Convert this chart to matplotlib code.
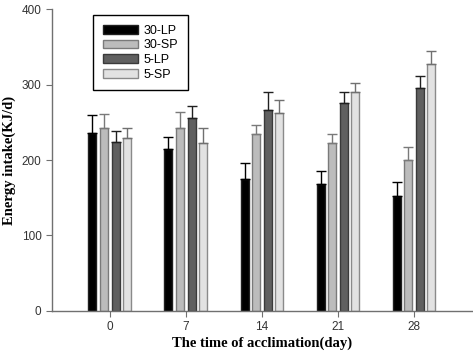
import matplotlib.pyplot as plt
import numpy as np

days = ["0", "7", "14", "21", "28"]
groups = ["30-LP", "30-SP", "5-LP", "5-SP"]

lp30 = [236, 215, 175, 168, 152]
sp30 = [243, 243, 234, 222, 200]
lp5 = [224, 255, 266, 276, 296]
sp5 = [229, 222, 262, 290, 327]

lp30_err = [23, 15, 21, 17, 19]
sp30_err = [18, 21, 13, 12, 17]
lp5_err = [14, 17, 24, 14, 15]
sp5_err = [14, 20, 18, 12, 18]

means = [lp30, sp30, lp5, sp5]
errs = [lp30_err, sp30_err, lp5_err, sp5_err]
fills = ["#000000", "#bcbcbc", "#606060", "#e2e2e2"]
edges = ["#202020", "#7a7a7a", "#3a3a3a", "#8a8a8a"]
errcol = ["#000000", "#7a7a7a", "#202020", "#707070"]

fig = plt.figure(figsize=(4.73, 3.54), dpi=100)
ax = fig.add_axes([0.110, 0.1215, 0.888, 0.853])

x = np.arange(len(days))
offs = [-0.23, -0.08, 0.075, 0.22]
w = 0.105
for i in range(4):
    ax.bar(x + offs[i], means[i], w, color=fills[i], edgecolor=edges[i],
           linewidth=1.0, label=groups[i], zorder=2)
    ax.errorbar(x + offs[i], means[i], yerr=[np.zeros(5), errs[i]], fmt="none",
                ecolor=errcol[i], elinewidth=1.0, capsize=3.5, capthick=1.0, zorder=3)

ax.set_xlim(-0.76, 4.76)
ax.set_ylim(0, 400)
ax.set_xticks(x)
ax.set_xticklabels(days)
ax.set_yticks([0, 100, 200, 300, 400])
for s in ["top", "right"]:
    ax.spines[s].set_visible(False)
for s in ["left", "bottom"]:
    ax.spines[s].set_color("#707070")
    ax.spines[s].set_linewidth(1.0)
ax.tick_params(direction="out", length=4, color="#707070", labelsize=8.5,
               labelcolor="#333333")
for lab in ax.get_xticklabels() + ax.get_yticklabels():
    lab.set_family("Liberation Sans")

ax.set_xlabel("The time of acclimation(day)", family="Liberation Serif",
              fontweight="bold", fontsize=10.5, labelpad=2)
ax.set_ylabel("Energy intake(KJ/d)", family="Liberation Serif",
              fontweight="bold", fontsize=10.5, labelpad=4)

leg = ax.legend(loc="upper left", bbox_to_anchor=(0.083, 1.0), fancybox=False,
                edgecolor="#000000", framealpha=1,
                prop={"family": "Liberation Sans", "size": 9},
                handlelength=2.8, handleheight=0.7, handletextpad=0.5,
                labelspacing=0.22, borderpad=0.75)
leg.get_frame().set_linewidth(1.0)

fig.savefig("out.png", dpi=100)
